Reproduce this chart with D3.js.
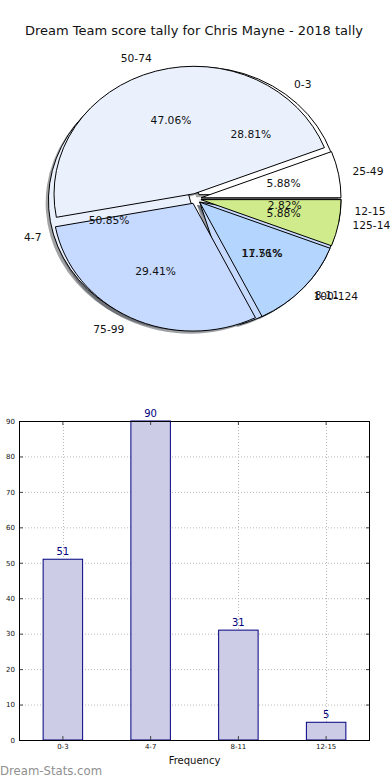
<!DOCTYPE html>
<html><head><meta charset="utf-8">
<script src="https://cdn.jsdelivr.net/npm/d3@7"></script>
<style>body{margin:0;background:#fff}svg{display:block}text{font-family:"DejaVu Sans",sans-serif}</style>
</head><body>
<script>
// ---- data ----
const title = "Dream Team score tally for Chris Mayne - 2018 tally";
const freqCats = ["0-3", "4-7", "8-11", "12-15"];
const freqVals = [51, 90, 31, 5];
const scoreCats = ["25-49", "50-74", "75-99", "100-124", "125-149"];
const scoreVals = [1, 8, 5, 2, 1];
const pieColors = ["#ffffff", "#eaf1fd", "#c6d9fe", "#b4d6fe", "#d0eb8b"];
const yTicks = [0, 10, 20, 30, 40, 50, 60, 70, 80, 90];
const xLabel = "Frequency";
const watermark = "Dream-Stats.com";

const W = 390, H = 780;
const svg = d3.select("body").append("svg").attr("width", W).attr("height", H);

svg.append("text").attr("x", 194).attr("y", 30).attr("text-anchor", "middle")
  .attr("dominant-baseline", "central").attr("font-size", 13).attr("fill", "#111").text(title);

// ---- pie ----
const cx = 195.5, cy = 198.7, rx = 140, ry = 127.8, expl = 0.04;
const pie = d3.pie().sort(null).value(d => d.v).startAngle(Math.PI / 2).endAngle(Math.PI / 2 - 2 * Math.PI);
const arc = d3.arc().innerRadius(0).outerRadius(1);
const pct = d3.format(".2f");

function prep(cats, vals) {
  const tot = d3.sum(vals);
  return pie(cats.map((c, i) => ({c, v: vals[i], col: pieColors[i], p: pct(vals[i] / tot * 100) + "%"})))
    .map(a => {
      const m = (a.startAngle + a.endAngle) / 2;
      a.sx = Math.sin(m); a.cy = -Math.cos(m);
      a.ox = cx + expl * rx * a.sx; a.oy = cy + expl * ry * a.cy;
      return a;
    });
}
const p1 = prep(freqCats, freqVals);
const p2 = prep(scoreCats, scoreVals);

const gp = svg.append("g");
// shadows
[p1, p2].forEach(P => {
  gp.selectAll(null).data(P).enter().append("path")
    .attr("d", arc)
    .attr("transform", d => `translate(${d.ox - 0.02 * rx},${d.oy + 0.02 * ry}) scale(${rx},${ry})`)
    .attr("fill", d => { const c = d3.rgb(d.data.col); return d3.rgb(c.r * 0.3, c.g * 0.3, c.b * 0.3).toString(); })
    .attr("fill-opacity", 0.5);
});
[p1, p2].forEach(P => {
  gp.selectAll(null).data(P).enter().append("path")
    .attr("d", arc)
    .attr("transform", d => `translate(${d.ox},${d.oy}) scale(${rx},${ry})`)
    .attr("fill", d => d.data.col).attr("stroke", "#000").attr("stroke-width", 1)
    .attr("vector-effect", "non-scaling-stroke").attr("stroke-linejoin", "miter");
});
[p1, p2].forEach(P => {
  gp.selectAll(null).data(P).enter().append("text")
    .attr("x", d => d.ox + 1.1 * rx * d.sx).attr("y", d => d.oy + 1.1 * ry * d.cy)
    .attr("text-anchor", d => d.sx >= 0 ? "start" : "end").attr("dominant-baseline", "central")
    .attr("font-size", 10.7).attr("fill", "#111").text(d => d.data.c);
  gp.selectAll(null).data(P).enter().append("text")
    .attr("x", d => d.ox + 0.6 * rx * d.sx).attr("y", d => d.oy + 0.6 * ry * d.cy)
    .attr("text-anchor", "middle").attr("dominant-baseline", "central")
    .attr("font-size", 10.7).attr("fill", "#111").text(d => d.data.p);
});

// ---- bar chart ----
const L = 19, R = 370, T = 421, B = 740;
const x = d3.scaleBand().domain(freqCats).range([L, R]).paddingInner(0.55).paddingOuter(0.275);
const y = d3.scaleLinear().domain([0, 90]).range([B, T]);
const gb = svg.append("g");
// grid
gb.selectAll(null).data(yTicks).enter().append("line")
  .attr("x1", L).attr("x2", R).attr("y1", d => y(d) + 0.5).attr("y2", d => y(d) + 0.5)
  .attr("stroke", "#b8b8b8").attr("stroke-dasharray", "1,2");
gb.selectAll(null).data(freqCats).enter().append("line")
  .attr("y1", T).attr("y2", B).attr("x1", d => Math.round(x(d) + x.bandwidth() / 2) + 0.5).attr("x2", d => Math.round(x(d) + x.bandwidth() / 2) + 0.5)
  .attr("stroke", "#b8b8b8").attr("stroke-dasharray", "1,2");
// bars
gb.selectAll(null).data(freqCats).enter().append("rect")
  .attr("x", d => x(d)).attr("width", x.bandwidth())
  .attr("y", (d, i) => y(freqVals[i])).attr("height", (d, i) => B - y(freqVals[i]))
  .attr("fill", "#ccccE6").attr("stroke", "#000080").attr("stroke-width", 1);
gb.selectAll(null).data(freqCats).enter().append("text")
  .attr("x", d => x(d) + x.bandwidth() / 2).attr("y", (d, i) => y(freqVals[i]) - 4)
  .attr("text-anchor", "middle").attr("font-size", 10).attr("fill", "#000080")
  .text((d, i) => freqVals[i]);
// axes
const ya = gb.append("g").attr("transform", `translate(${L},0)`)
  .call(d3.axisLeft(y).tickValues(yTicks).tickSizeInner(-4).tickSizeOuter(0).tickPadding(4));
const ya2 = gb.append("g").attr("transform", `translate(${R},0)`)
  .call(d3.axisRight(y).tickValues(yTicks).tickSizeInner(-4).tickSizeOuter(0).tickFormat(""));
const xa = gb.append("g").attr("transform", `translate(0,${B})`)
  .call(d3.axisBottom(x).tickSizeInner(-4).tickSizeOuter(0).tickPadding(4));
const xa2 = gb.append("g").attr("transform", `translate(0,${T})`)
  .call(d3.axisTop(x).tickSizeInner(-4).tickSizeOuter(0).tickFormat(""));
[ya, ya2, xa, xa2].forEach(g => {
  g.select(".domain").remove();
  g.selectAll("line").attr("stroke", "#444");
  g.selectAll("text").attr("font-family", "DejaVu Sans").attr("font-size", 7).attr("fill", "#111");
});
gb.append("rect").attr("x", L + 0.5).attr("y", T + 0.5).attr("width", R - L - 1).attr("height", B - T)
  .attr("fill", "none").attr("stroke", "#000").attr("stroke-width", 1);
svg.append("text").attr("x", (L + R) / 2).attr("y", 760).attr("text-anchor", "middle")
  .attr("dominant-baseline", "central").attr("font-size", 10).attr("fill", "#111").text(xLabel);
svg.append("text").attr("x", 0).attr("y", 771).attr("dominant-baseline", "central")
  .attr("font-size", 11.7).attr("fill", "#909090").text(watermark);
</script>
</body></html>
